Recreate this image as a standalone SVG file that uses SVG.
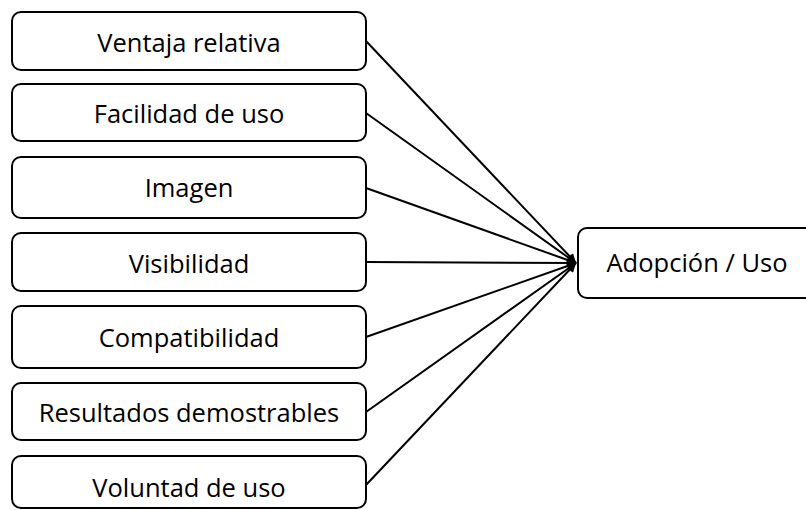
<svg xmlns="http://www.w3.org/2000/svg" width="806" height="510" viewBox="0 0 806 510">
  <style>
    .box { fill: #ffffff; stroke: #000000; stroke-width: 2; }
    .lbl { font-family: "Open Sans", "Liberation Sans", sans-serif; font-size: 25.5px; fill: #000000; text-anchor: middle; dominant-baseline: central; }
    .edge { stroke: #000000; stroke-width: 2; fill: none; marker-end: url(#arrow); }
  </style>
  <defs>
    <marker id="arrow" viewBox="0 0 10 10" refX="10" refY="5" markerWidth="6" markerHeight="4.5" orient="auto" markerUnits="strokeWidth">
      <path d="M0,0 L10,5 L0,10 Z" fill="#000000"/>
    </marker>
  </defs>
  <rect width="806" height="510" fill="#ffffff"/>

  <!-- arrows from each factor into the outcome box -->
  <g id="connectors">
    <line class="edge" x1="366" y1="41" x2="576" y2="263"/>
    <line class="edge" x1="366" y1="113" x2="576" y2="263"/>
    <line class="edge" x1="366" y1="188" x2="576" y2="263"/>
    <line class="edge" x1="366" y1="262" x2="576" y2="263"/>
    <line class="edge" x1="366" y1="337" x2="576" y2="263"/>
    <line class="edge" x1="366" y1="412" x2="576" y2="263"/>
    <line class="edge" x1="366" y1="485" x2="576" y2="263"/>
  </g>

  <g id="ventaja">
    <rect class="box" x="12" y="12" width="354" height="58" rx="9"/>
    <text class="lbl" x="189" y="42">Ventaja relativa</text>
  </g>
  <g id="facilidad">
    <rect class="box" x="12" y="84" width="354" height="57" rx="9"/>
    <text class="lbl" x="189" y="113">Facilidad de uso</text>
  </g>
  <g id="imagen">
    <rect class="box" x="12" y="157" width="354" height="61" rx="9"/>
    <text class="lbl" x="189" y="187">Imagen</text>
  </g>
  <g id="visibilidad">
    <rect class="box" x="12" y="233" width="354" height="58" rx="9"/>
    <text class="lbl" x="189" y="263">Visibilidad</text>
  </g>
  <g id="compatibilidad">
    <rect class="box" x="12" y="306" width="354" height="62" rx="9"/>
    <text class="lbl" x="189" y="337">Compatibilidad</text>
  </g>
  <g id="resultados">
    <rect class="box" x="12" y="383" width="354" height="57" rx="9"/>
    <text class="lbl" x="189" y="412">Resultados demostrables</text>
  </g>
  <g id="voluntad">
    <rect class="box" x="12" y="456" width="354" height="52" rx="9"/>
    <text class="lbl" x="189" y="487">Voluntad de uso</text>
  </g>
  <g id="adopcion">
    <rect class="box" x="578" y="228" width="240" height="70" rx="9"/>
    <text class="lbl" x="697" y="262">Adopción / Uso</text>
  </g>
</svg>
